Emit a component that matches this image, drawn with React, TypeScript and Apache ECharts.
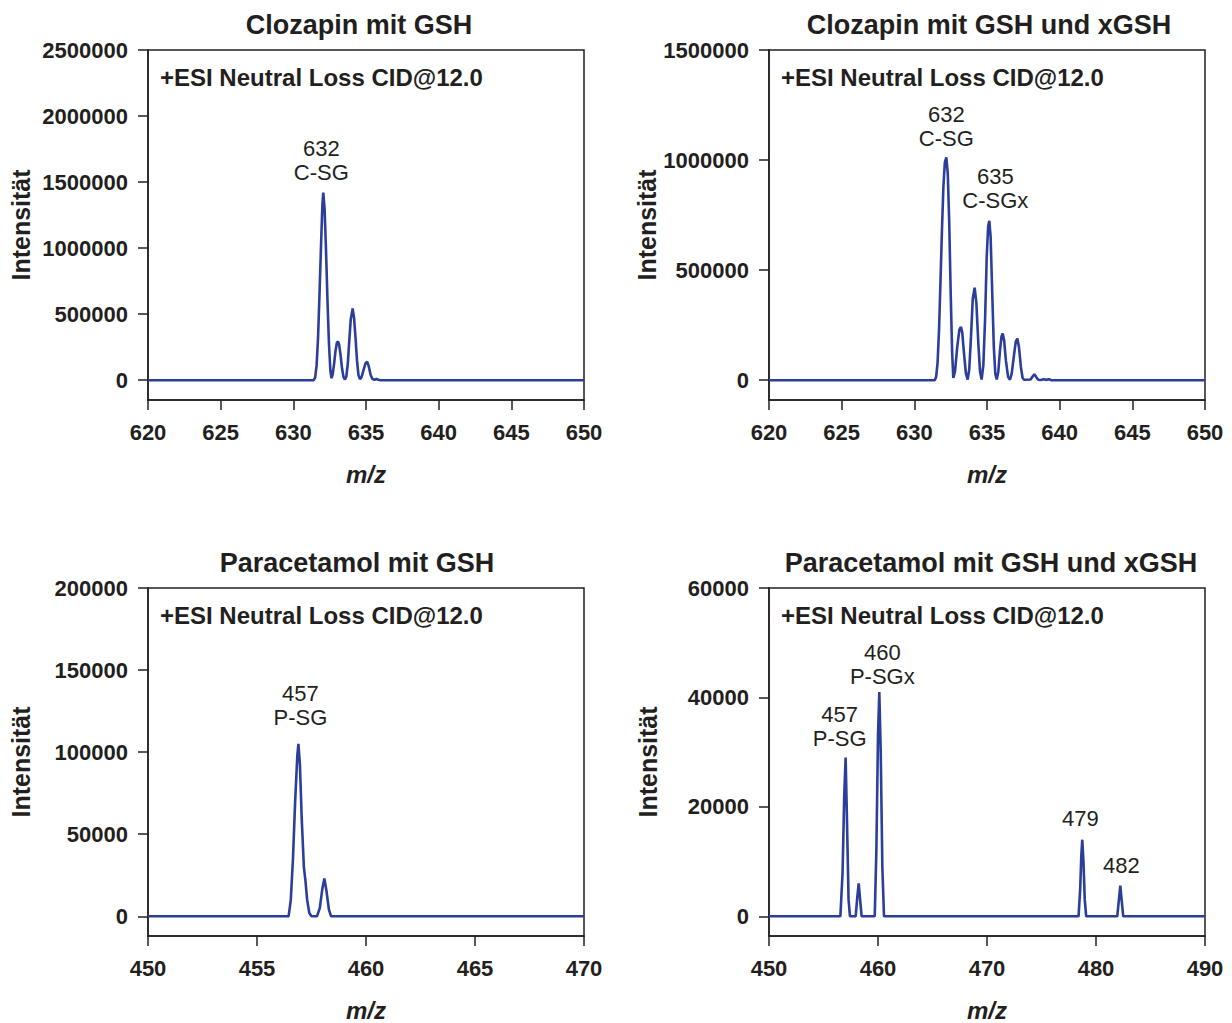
import React, { useEffect, useRef } from "react";
import * as echarts from "echarts";

// ---------- data ----------
const titles = [
  "Clozapin mit GSH",
  "Clozapin mit GSH und xGSH",
  "Paracetamol mit GSH",
  "Paracetamol mit GSH und xGSH",
];
const modeText = "+ESI Neutral Loss CID@12.0";

const xRanges = [
  [620, 650, 5],
  [620, 650, 5],
  [450, 470, 5],
  [450, 490, 10],
];
const yTicks1 = [0, 500000, 1000000, 1500000, 2000000, 2500000];
const yTicks2 = [0, 500000, 1000000, 1500000];
const yTicks3 = [0, 50000, 100000, 150000, 200000];
const yTicks4 = [0, 20000, 40000, 60000];

// Panel 1: Clozapin mit GSH
const clozGsh: [number, number][] = [
  [620, 0], [631.4, 0], [631.5, 20000], [631.6, 110000], [631.7, 320000], [631.8, 650000],
  [631.9, 1000000], [632.0, 1330000], [632.06, 1420000], [632.15, 1300000], [632.25, 980000],
  [632.35, 600000], [632.45, 280000], [632.55, 70000], [632.63, 15000],
  [632.7, 40000], [632.8, 120000], [632.9, 220000], [633.0, 285000], [633.08, 292000],
  [633.15, 270000], [633.25, 190000], [633.35, 90000], [633.45, 25000], [633.55, 5000],
  [633.65, 30000], [633.75, 130000], [633.85, 300000], [633.95, 460000], [634.08, 543000],
  [634.18, 470000], [634.28, 320000], [634.38, 150000], [634.48, 40000], [634.58, 8000],
  [634.7, 25000], [634.85, 85000], [634.97, 130000], [635.09, 139000], [635.2, 100000],
  [635.32, 40000], [635.45, 8000], [635.58, 3000], [635.72, 9000], [635.85, 3000],
  [636.0, 0], [650, 0],
];

// Panel 2: Clozapin mit GSH und xGSH
const clozGshX: [number, number][] = [
  [620, 0], [631.4, 0], [631.5, 15000], [631.6, 80000], [631.7, 230000], [631.8, 450000],
  [631.9, 680000], [632.0, 880000], [632.1, 990000], [632.2, 1012000], [632.3, 940000],
  [632.4, 720000], [632.5, 400000], [632.6, 130000], [632.68, 10000],
  [632.8, 40000], [632.95, 150000], [633.1, 230000], [633.21, 242000], [633.3, 215000],
  [633.42, 120000], [633.55, 30000], [633.67, 3000],
  [633.78, 50000], [633.9, 200000], [634.02, 370000], [634.15, 420000], [634.27, 350000],
  [634.4, 170000], [634.52, 40000], [634.63, 3000],
  [634.75, 70000], [634.87, 280000], [634.98, 560000], [635.08, 700000], [635.16, 724000],
  [635.25, 650000], [635.35, 420000], [635.47, 150000], [635.57, 30000], [635.67, 3000],
  [635.78, 40000], [635.9, 140000], [636.0, 200000], [636.08, 212000], [636.18, 180000],
  [636.3, 90000], [636.45, 15000], [636.58, 2000],
  [636.7, 30000], [636.85, 110000], [636.98, 175000], [637.09, 189000], [637.2, 150000],
  [637.33, 60000], [637.45, 10000], [637.55, 2000],
  [638.0, 3000], [638.15, 18000], [638.26, 27000], [638.38, 15000], [638.52, 2000],
  [638.7, 1000], [638.9, 4000], [639.05, 1500], [639.25, 4000], [639.45, 0], [650, 0],
];

// Panel 3: Paracetamol mit GSH
const paraGsh: [number, number][] = [
  [450, 0], [456.45, 0], [456.55, 10000], [456.65, 35000], [456.75, 70000], [456.85, 98000],
  [456.9, 105000], [456.97, 92000], [457.05, 60000], [457.15, 30000], [457.22, 22000],
  [457.3, 10000], [457.4, 2000], [457.5, 0], [457.75, 0], [457.88, 5000], [458.0, 17000],
  [458.09, 23000], [458.18, 16000], [458.3, 4000], [458.4, 0], [470, 0],
];

// Panel 4: Paracetamol mit GSH und xGSH
const paraGshX: [number, number][] = [
  [450, 0], [456.55, 0], [456.75, 8000], [456.9, 22000], [457.03, 29000], [457.15, 18000],
  [457.3, 3000], [457.43, 0], [457.95, 0], [458.1, 3500], [458.23, 6000], [458.36, 3000],
  [458.5, 0], [459.7, 0], [459.85, 12000], [460.0, 33000], [460.12, 41000], [460.25, 30000],
  [460.4, 9000], [460.55, 0], [478.4, 0], [478.55, 5000], [478.65, 11000], [478.74, 14000],
  [478.85, 10000], [478.97, 3000], [479.1, 0], [481.95, 0], [482.1, 3000], [482.23, 5600],
  [482.35, 3000], [482.5, 0], [490, 0],
];

// Peak annotations: [m/z, intensity, label]
const ann1: [number, number, string][] = [[632.06, 1420000, "632\nC-SG"]];
const ann2: [number, number, string][] = [
  [632.2, 1012000, "632\nC-SG"],
  [635.16, 724000, "635\nC-SGx"],
];
const ann3: [number, number, string][] = [[456.9, 105000, "457\nP-SG"]];
const ann4: [number, number, string][] = [
  [457.03, 29000, "457\nP-SG"],
  [460.12, 41000, "460\nP-SGx"],
  [478.74, 14000, "479"],
  [482.23, 5600, "482"],
];

// ---------- presentation ----------
const FONT = "'Liberation Sans', Arial, Helvetica, sans-serif";
const INK = "#231f20";
const LINE = "#2b3e9b";

const grids = [
  { left: 148, top: 50 },
  { left: 769, top: 50 },
  { left: 148, top: 588 },
  { left: 769, top: 588 },
];
const GW = 436;
const GH = 350;
const yTickSets = [yTicks1, yTicks2, yTicks3, yTicks4];
const series = [clozGsh, clozGshX, paraGsh, paraGshX];
const anns = [ann1, ann2, ann3, ann4];
const annOffsets = [
  [[-2, -8]],
  [[0, -6], [6, -8]],
  [[2, -14]],
  [[-6, -7], [3, -3], [-2, -9], [1, -8]],
];
const nameGaps = [115, 109, 115, 109];
const titleX = [359, 989, 357, 991];

export default function App() {
  const ref = useRef<HTMLDivElement>(null);
  useEffect(() => {
    document.body.style.margin = "0";
    const chart = echarts.init(ref.current!, undefined, { renderer: "svg" });
    const axisLineStyle = { color: INK, width: 1.5 };
    const option: any = {
      animation: false,
      backgroundColor: "#ffffff",
      textStyle: { fontFamily: FONT },
      grid: grids.map((g) => ({
        left: g.left,
        top: g.top,
        width: GW,
        height: GH,
        show: true,
        borderColor: INK,
        borderWidth: 1.5,
        backgroundColor: "transparent",
      })),
      xAxis: xRanges.map((r, i) => ({
        type: "value",
        gridIndex: i,
        min: r[0],
        max: r[1],
        interval: r[2],
        axisLine: { show: true, onZero: false, lineStyle: axisLineStyle },
        axisTick: { show: true, inside: false, length: 10, lineStyle: axisLineStyle },
        axisLabel: {
          fontSize: 22,
          fontWeight: "bold",
          color: INK,
          margin: 21,
          fontFamily: FONT,
          formatter: (v: number) => String(v),
        },
        splitLine: { show: false },
        name: "m/z",
        nameLocation: "middle",
        nameGap: 62,
        nameTextStyle: {
          fontStyle: "italic",
          fontWeight: "bold",
          fontSize: 24,
          color: INK,
          fontFamily: FONT,
        },
      })),
      yAxis: yTickSets.map((ticks, i) => {
        const max = ticks[ticks.length - 1];
        return {
          type: "value",
          gridIndex: i,
          min: -max * 0.06,
          max: max,
          axisLine: { show: true, onZero: false, lineStyle: axisLineStyle },
          axisTick: {
            show: true,
            inside: false,
            length: 10,
            lineStyle: axisLineStyle,
            customValues: ticks,
          },
          axisLabel: {
            fontSize: 22,
            fontWeight: "bold",
            color: INK,
            margin: 20,
            fontFamily: FONT,
            customValues: ticks,
            formatter: (v: number) => String(v),
          },
          splitLine: { show: false },
          name: "Intensität",
          nameLocation: "middle",
          nameGap: nameGaps[i],
          nameTextStyle: {
            fontWeight: "bold",
            fontSize: 25,
            color: INK,
            fontFamily: FONT,
          },
        };
      }),
      series: series.map((d, i) => ({
        type: "line",
        xAxisIndex: i,
        yAxisIndex: i,
        data: d,
        showSymbol: false,
        symbol: "none",
        smooth: false,
        lineStyle: { color: LINE, width: 2.6 },
        z: 3,
        markPoint: {
          symbol: "circle",
          symbolSize: 1,
          silent: true,
          itemStyle: { color: "rgba(0,0,0,0)" },
          label: {
            show: true,
            position: "top",
            distance: 0,
            fontSize: 22,
            lineHeight: 24,
            color: INK,
            fontFamily: FONT,
          },
          data: anns[i].map((a, j) => ({
            coord: [a[0], a[1]],
            value: a[2],
            label: { formatter: a[2], offset: annOffsets[i][j] },
          })),
        },
      })),
      graphic: [
        ...titles.map((t, i) => ({
          type: "text",
          x: titleX[i],
          y: grids[i].top - 25,
          style: {
            text: t,
            align: "center",
            verticalAlign: "middle",
            fontSize: 27,
            fontWeight: "bold",
            fontFamily: FONT,
            fill: INK,
          },
        })),
        ...grids.map((g) => ({
          type: "text",
          x: g.left + 12,
          y: g.top + 27,
          style: {
            text: modeText,
            align: "left",
            verticalAlign: "middle",
            fontSize: 24,
            fontWeight: "bold",
            fontFamily: FONT,
            fill: INK,
          },
        })),
      ],
    };
    chart.setOption(option);
    return () => chart.dispose();
  }, []);
  return <div ref={ref} style={{ width: 1232, height: 1023 }} />;
}
